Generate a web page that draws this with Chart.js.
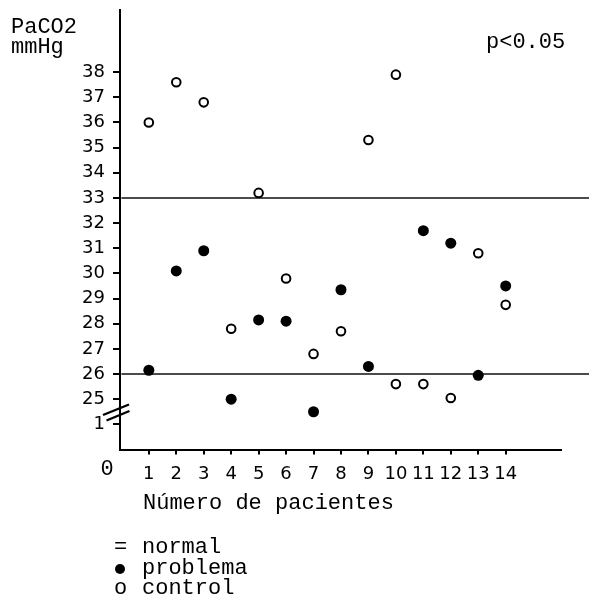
<!DOCTYPE html>
<html>
<head>
<meta charset="utf-8">
<script src="https://cdn.jsdelivr.net/npm/chart.js@4/dist/chart.umd.min.js"></script>
<style>
  html, body { margin: 0; padding: 0; background: #fff; }
  #c { display: block; }
</style>
</head>
<body>
<canvas id="c" width="589" height="597"></canvas>
<script>
// ---- data ----
const xTicks = [1, 2, 3, 4, 5, 6, 7, 8, 9, 10, 11, 12, 13, 14];
const yTicks = [24, 25, 26, 27, 28, 29, 30, 31, 32, 33, 34, 35, 36, 37, 38];
const yTickLabels = ["1", "25", "26", "27", "28", "29", "30", "31", "32", "33", "34", "35", "36", "37", "38"];

const problemaPatients = [1, 2, 3, 4, 5, 6, 7, 8, 9, 11, 12, 13, 14];
const problemaValues   = [26.15, 30.1, 30.9, 25.0, 28.15, 28.1, 24.5, 29.35, 26.3, 31.7, 31.2, 25.95, 29.5];

const controlPatients = [1, 2, 3, 4, 5, 6, 7, 8, 9, 10, 10, 11, 12, 13, 14];
const controlValues   = [36.0, 37.6, 36.8, 27.8, 33.2, 29.8, 26.8, 27.7, 35.3, 37.9, 25.6, 25.6, 25.05, 30.8, 28.75];

const normalLimits = [26, 33];
const normalLineX = [0, 17.4];

const yAxisTitle = ["PaCO2", "mmHg"];
const pText = "p<0.05";
const xAxisTitle = "Número de pacientes";
const originLabel = "0";
const legendItems = [
  { symbol: "=", text: "normal" },
  { symbol: "dot", text: "problema" },
  { symbol: "o", text: "control" }
];

// ---- build datasets ----
const toPoints = (xs, ys) => xs.map((x, i) => ({ x: x, y: ys[i] }));

const datasets = [
  {
    label: "problema",
    data: toPoints(problemaPatients, problemaValues),
    pointRadius: 5.5,
    pointBackgroundColor: "#000",
    pointBorderColor: "#000",
    pointBorderWidth: 0,
    showLine: false
  },
  {
    label: "control",
    data: toPoints(controlPatients, controlValues),
    pointRadius: 4.3,
    pointBackgroundColor: "#fff",
    pointBorderColor: "#000",
    pointBorderWidth: 2,
    showLine: false
  }
].concat(normalLimits.map((v, i) => ({
  label: "normal" + i,
  type: "line",
  data: normalLineX.map(x => ({ x: x, y: v })),
  borderColor: "#111",
  borderWidth: 1.6,
  pointRadius: 0,
  showLine: true,
  fill: false,
  clip: false
})));

const MONO = "'Liberation Mono', 'DejaVu Sans Mono', monospace";

const annotations = {
  id: "annotations",
  afterDraw(chart) {
    const ctx = chart.ctx;
    ctx.save();
    ctx.fillStyle = "#000";
    ctx.strokeStyle = "#000";
    ctx.font = "22px " + MONO;
    ctx.textAlign = "left";
    ctx.textBaseline = "alphabetic";
    ctx.fillText(yAxisTitle[0], 11, 33);
    ctx.fillText(yAxisTitle[1], 11, 53);
    ctx.fillText(pText, 486, 48);
    ctx.fillText(xAxisTitle, 143, 509);
    ctx.textAlign = "center";
    ctx.fillText(originLabel, 107, 475);
    ctx.textAlign = "left";
    // legend
    const baseY = [553, 574, 594];
    legendItems.forEach((it, i) => {
      if (it.symbol === "dot") {
        ctx.beginPath();
        ctx.arc(120, baseY[i] - 5, 5, 0, Math.PI * 2);
        ctx.fill();
      } else {
        ctx.fillText(it.symbol, 114, baseY[i]);
      }
      ctx.fillText(it.text, 142, baseY[i]);
    });
    // axis break mark
    ctx.lineWidth = 2.4;
    ctx.beginPath();
    ctx.moveTo(103, 415); ctx.lineTo(129, 404.5);
    ctx.moveTo(106.5, 420.5); ctx.lineTo(129.5, 411);
    ctx.stroke();
    ctx.restore();
  }
};

const zeroPad = s => { s.paddingTop = 0; s.paddingBottom = 0; s.paddingLeft = 0; s.paddingRight = 0; };

new Chart(document.getElementById("c"), {
  type: "scatter",
  data: { datasets: datasets },
  plugins: [annotations],
  options: {
    responsive: false,
    animation: false,
    devicePixelRatio: 1,
    layout: { padding: { left: 0, top: 10, right: 28.4, bottom: 0 } },
    plugins: { legend: { display: false }, tooltip: { enabled: false } },
    scales: {
      x: {
        type: "linear",
        min: -0.05,
        max: 16,
        border: { display: true, color: "#000", width: 2 },
        grid: { drawOnChartArea: false, drawTicks: true, tickLength: 5, color: "#000", lineWidth: 2 },
        ticks: {
          autoSkip: false, maxRotation: 0, color: "#000", padding: 9,
          font: { family: "'DejaVu Sans'", size: 18 }
        },
        afterBuildTicks: s => { s.ticks = xTicks.map(v => ({ value: v })); },
        afterFit: s => { s.height = 147.5; zeroPad(s); }
      },
      y: {
        type: "linear",
        min: 23,
        max: 40.47,
        border: { display: true, color: "#000", width: 2 },
        grid: { drawOnChartArea: false, drawTicks: true, tickLength: 7, color: "#000", lineWidth: 2 },
        ticks: {
          autoSkip: false, color: "#000", padding: 8,
          font: { family: "'DejaVu Sans'", size: 18 },
          callback: v => { const i = yTicks.indexOf(v); return i >= 0 ? yTickLabels[i] : ""; }
        },
        afterBuildTicks: s => { s.ticks = yTicks.map(v => ({ value: v })); },
        afterFit: s => { s.width = 120; zeroPad(s); }
      }
    }
  }
});
</script>
</body>
</html>
